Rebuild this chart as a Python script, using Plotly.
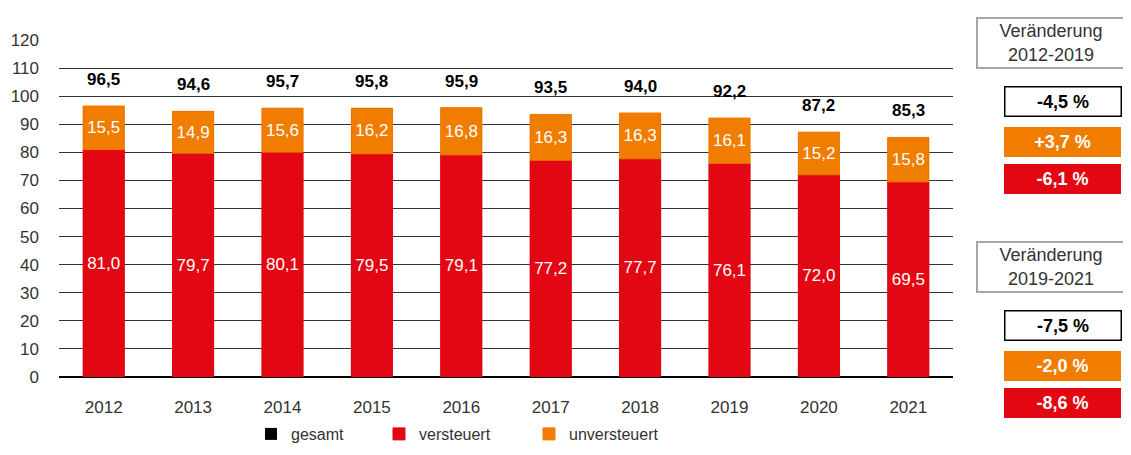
import plotly.graph_objects as go

years = ["2012", "2013", "2014", "2015", "2016", "2017", "2018", "2019", "2020", "2021"]
versteuert = [81.0, 79.7, 80.1, 79.5, 79.1, 77.2, 77.7, 76.1, 72.0, 69.5]
unversteuert = [15.5, 14.9, 15.6, 16.2, 16.8, 16.3, 16.3, 16.1, 15.2, 15.8]
gesamt = [96.5, 94.6, 95.7, 95.8, 95.9, 93.5, 94.0, 92.2, 87.2, 85.3]

box_headers = ["Veränderung<br>2012-2019", "Veränderung<br>2019-2021"]
chg_gesamt = ["-4,5 %", "-7,5 %"]
chg_unversteuert = ["+3,7 %", "-2,0 %"]
chg_versteuert = ["-6,1 %", "-8,6 %"]

RED = "#e30613"
ORANGE = "#f07d00"
FONT = "Liberation Sans, Arial, sans-serif"
TXT = "#333333"

def fmt(v):
    return f"{v:.1f}".replace(".", ",")

# page has an 8px body margin; work in page pixels and convert
OFF = 8
W, H = 1131 - 2 * OFF, 455 - 2 * OFF
plot_left, plot_right, plot_top, plot_bottom = 59, 953, 40, 377
L = plot_left - OFF
R = W - (plot_right - OFF)
T = plot_top - OFF
B = H - (plot_bottom - OFF)
pw, ph = W - L - R, H - T - B

def px_x(p):
    return (p - OFF - L) / pw

def px_y(p):
    return (H - B - (p - OFF)) / ph

fig = go.Figure()
fig.add_trace(go.Bar(
    x=years, y=gesamt, name="gesamt", marker=dict(color="black", line=dict(width=0)),
    width=0.46, legend="legend",
))
fig.add_trace(go.Bar(
    x=years, y=versteuert, name="versteuert", marker=dict(color=RED, line=dict(width=1, color=RED)),
    text=[fmt(v) for v in versteuert], textposition="inside", insidetextanchor="middle",
    textfont=dict(family=FONT, size=17, color="white"), textangle=0, width=0.46, legend="legend2",
))
fig.add_trace(go.Bar(
    x=years, y=unversteuert, base=versteuert, name="unversteuert",
    marker=dict(color=ORANGE, line=dict(width=1, color=ORANGE)),
    text=[fmt(v) for v in unversteuert], textposition="inside", insidetextanchor="middle",
    textfont=dict(family=FONT, size=17, color="white"), textangle=0, width=0.46, legend="legend3",
))

for idx, g in enumerate(gesamt):
    fig.add_annotation(x=idx, y=g, text=f"<b>{fmt(g)}</b>", showarrow=False,
                       yanchor="bottom", yshift=15,
                       font=dict(family=FONT, size=17, color="black"))

tops = [16, 240]
for i in range(2):
    t0 = tops[i]
    fig.add_annotation(
        xref="paper", yref="paper", x=px_x(1051), y=px_y(t0 + 27), xanchor="center", yanchor="middle",
        text=box_headers[i], showarrow=False, width=144, height=46,
        bordercolor="#a6a6a6", borderwidth=2, bgcolor="white",
        font=dict(family=FONT, size=18, color=TXT),
    )
    offs = [(70, "white", "#000000", chg_gesamt[i], "black", 1.5),
            (111, ORANGE, ORANGE, chg_unversteuert[i], "white", 1),
            (148, RED, RED, chg_versteuert[i], "white", 1)]
    for dy, bg, bc, txt, fc, bw in offs:
        fig.add_annotation(
            xref="paper", yref="paper", x=px_x(1062.5), y=px_y(t0 + dy + 15), xanchor="center", yanchor="middle",
            text=f"<b>{txt}</b>", showarrow=False, width=113, height=26,
            bordercolor=bc, borderwidth=bw, bgcolor=bg,
            font=dict(family=FONT, size=18, color=fc),
        )

leg_common = dict(orientation="h", xanchor="left", y=px_y(434), yanchor="middle",
                  font=dict(family=FONT, size=16, color=TXT), itemwidth=30, bgcolor="rgba(0,0,0,0)")
fig.update_layout(
    width=W, height=H, margin=dict(l=L, r=R, t=T, b=B, autoexpand=False),
    barmode="overlay", plot_bgcolor="white", paper_bgcolor="white",
    font=dict(family=FONT, size=16, color=TXT),
    showlegend=True,
    legend=dict(x=px_x(251), **leg_common),
    legend2=dict(x=px_x(379), **leg_common),
    legend3=dict(x=px_x(529), **leg_common),
    uniformtext=dict(minsize=17, mode="show"),
)
fig.update_yaxes(range=[0, 120], dtick=10, showgrid=True, gridcolor="#333333", gridwidth=1,
                 zeroline=True, zerolinecolor="black", zerolinewidth=2, automargin=False,
                 tickfont=dict(family=FONT, size=17, color=TXT), ticks="", ticklabelstandoff=19,
                 showline=False)
fig.update_xaxes(type="category", tickfont=dict(family=FONT, size=17, color=TXT), ticks="",
                 showline=False, ticklabelstandoff=18, automargin=False)

fig.write_html("out.html")
